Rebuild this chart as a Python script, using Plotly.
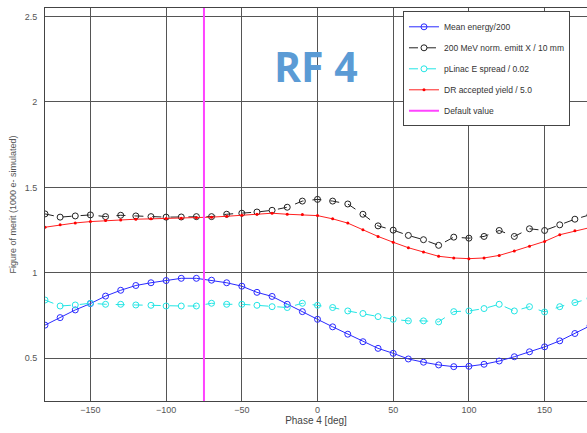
import plotly.graph_objects as go

phase = list(range(-180, 190, 10))

mean_energy = [0.694, 0.738, 0.783, 0.82, 0.864, 0.898, 0.926, 0.942, 0.955, 0.968, 0.968,
               0.957, 0.942, 0.922, 0.886, 0.862, 0.816, 0.773, 0.728, 0.684, 0.641, 0.597,
               0.558, 0.529, 0.496, 0.477, 0.461, 0.451, 0.453, 0.465, 0.484, 0.509, 0.538,
               0.567, 0.602, 0.645, 0.69]

emitt = [1.345, 1.326, 1.333, 1.339, 1.329, 1.337, 1.333, 1.329, 1.326, 1.327, 1.329,
         1.329, 1.343, 1.349, 1.356, 1.366, 1.384, 1.42, 1.43, 1.42, 1.403, 1.343,
         1.275, 1.25, 1.219, 1.194, 1.161, 1.209, 1.203, 1.213, 1.248, 1.213, 1.258,
         1.248, 1.281, 1.314, 1.34]

espread = [0.841, 0.806, 0.812, 0.822, 0.816, 0.816, 0.812, 0.81, 0.806, 0.806, 0.806,
           0.822, 0.816, 0.816, 0.81, 0.802, 0.797, 0.822, 0.81, 0.797, 0.777, 0.762,
           0.744, 0.728, 0.719, 0.719, 0.713, 0.773, 0.777, 0.791, 0.816, 0.777, 0.802,
           0.771, 0.802, 0.826, 0.85]

dr_yield = [1.267, 1.281, 1.292, 1.3, 1.306, 1.31, 1.314, 1.316, 1.318, 1.32, 1.322,
            1.326, 1.331, 1.337, 1.343, 1.349, 1.343, 1.341, 1.335, 1.316, 1.291, 1.252,
            1.213, 1.179, 1.147, 1.122, 1.097, 1.087, 1.083, 1.087, 1.102, 1.128, 1.155,
            1.184, 1.223, 1.246, 1.265]

default_phase = [-75, -75]
default_y = [0.25, 2.55]

x_ticks = [-150, -100, -50, 0, 50, 100, 150]
y_ticks = [0.5, 1, 1.5, 2, 2.5]
y_ticklabels = ["0.5", "1", "1.5", "2", "2.5"]

fig = go.Figure()
fig.add_trace(go.Scatter(x=phase, y=mean_energy, mode="lines+markers", name="Mean energy/200",
                         legendgroup="a",
                         line=dict(color="#2a2aff", width=1),
                         marker=dict(symbol="circle-open", size=6, color="#2a2aff", line=dict(width=1))))
fig.add_trace(go.Scatter(x=phase, y=emitt, mode="lines+markers", name="200 MeV norm. emitt X / 10 mm",
                         legendgroup="b",
                         line=dict(color="#222222", width=1, dash="dash"),
                         marker=dict(symbol="circle-open", size=6, color="#222222", line=dict(width=1))))
fig.add_trace(go.Scatter(x=phase, y=espread, mode="lines+markers", name="pLinac E spread / 0.02",
                         legendgroup="c",
                         line=dict(color="#22e5e5", width=1, dash="dash"),
                         marker=dict(symbol="circle-open", size=6, color="#22e5e5", line=dict(width=1))))
fig.add_trace(go.Scatter(x=phase, y=dr_yield, mode="lines+markers", name="DR accepted yield / 5.0",
                         legendgroup="d",
                         line=dict(color="#ff2020", width=1),
                         marker=dict(symbol="circle", size=3, color="#ff0000")))
fig.add_trace(go.Scatter(x=default_phase, y=default_y, mode="lines", name="Default value",
                         legendgroup="e",
                         line=dict(color="#ff44ff", width=2)))

fig.add_annotation(text="<b>RF 4</b>", xref="paper", yref="paper", x=0.5, y=0.852,
                   xanchor="center", yanchor="middle",
                   showarrow=False, font=dict(family="Open Sans", size=41, color="#5b9bd5"))

axis_font = dict(family="Liberation Sans", size=9, color="#555555")
fig.update_xaxes(range=[-180, 178], tickvals=x_ticks, showgrid=True, gridcolor="#555555", gridwidth=1,
                 zeroline=False, showline=True, linecolor="#444444", mirror=True, ticks="",
                 tickfont=axis_font, automargin=False,
                 title=dict(text="Phase 4 [deg]", font=dict(family="Liberation Sans", size=10, color="#444444"), standoff=2))
fig.update_yaxes(range=[0.25, 2.55], tickvals=y_ticks, ticktext=y_ticklabels, showgrid=True,
                 gridcolor="#555555", gridwidth=1, zeroline=False, showline=True, linecolor="#444444",
                 mirror=True, ticks="", tickfont=axis_font, automargin=False, ticklabelstandoff=5,
                 title=dict(text="Figure of merit (1000 e- simulated)",
                            font=dict(family="Liberation Sans", size=9, color="#555555"), standoff=6))

fig.update_layout(
    width=587, height=433,
    margin=dict(l=45, r=0, t=8, b=32),
    paper_bgcolor="white", plot_bgcolor="white",
    showlegend=True,
    legend=dict(x=0.6605, y=0.9916, xanchor="left", yanchor="top",
                bgcolor="white", bordercolor="#444444", borderwidth=1,
                font=dict(family="Liberation Sans", size=8.5, color="#333333"),
                tracegroupgap=2, itemwidth=30),
)

fig.write_html("out.html", config={"displayModeBar": False},
               post_script="document.body.style.margin='0';document.body.style.overflow='hidden';")
